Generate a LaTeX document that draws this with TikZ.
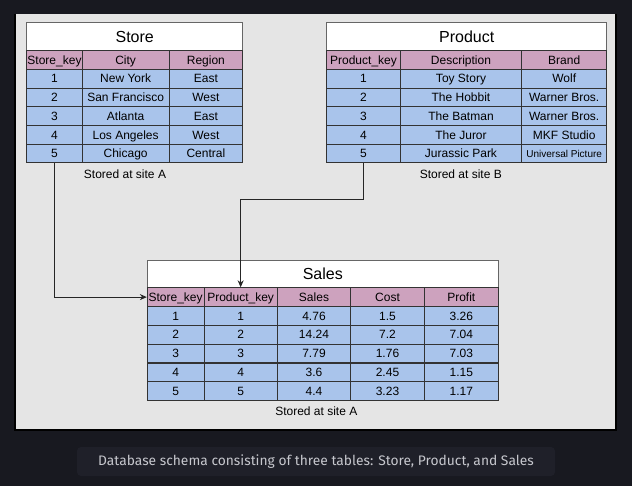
\documentclass[tikz,border=0pt]{standalone}
\usepackage{fontspec}
\setmainfont{Liberation Sans}
\newfontfamily\capfont{Fira Sans}
\usepackage{tikz}
\usetikzlibrary{arrows.meta}
\definecolor{pagebg}{HTML}{181920}
\definecolor{capbg}{HTML}{1F2029}
\definecolor{captext}{HTML}{C6C7CD}
\definecolor{panelbg}{HTML}{E5E5E5}
\definecolor{hdrpink}{HTML}{CDA2BE}
\definecolor{rowblue}{HTML}{A9C4EB}
\tikzset{
	cellbase/.style={draw=black!80, line width=0.9pt, rectangle, inner sep=0pt, minimum height=18.7pt, text height=11pt, text depth=2.6pt, font=\fontsize{12}{14}\selectfont},
	hdr/.style={cellbase, fill=hdrpink},
	rowc/.style={cellbase, fill=rowblue},
	tabtitle/.style={draw=black!60, line width=0.9pt, fill=white, rectangle, inner sep=0pt, text height=14.5pt, text depth=3.3pt, font=\fontsize{16}{19}\selectfont},
	site/.style={font=\fontsize{12}{14}\selectfont},
	link/.style={line width=0.9pt, draw=black!85, -{Stealth[length=7pt, width=6pt]}}
}

\begin{document}
\begin{tikzpicture}[x=1pt, y=-1pt]
			%%%%% START %%%%%
			\useasboundingbox[fill=pagebg] (0, 0) rectangle (632, 486);
			
			\fill[panelbg] (15, 14) rectangle (616, 430);
			\draw[line width=1.2pt, color=black] (15, 14) -- (15, 430) -- (616, 430) -- (616, 14);
			
			%%%%% STORE %%%%%
			\node[tabtitle, minimum width=216pt, minimum height=28pt] (st-title) at (134.7, 36.7) {Store};
			\node[hdr, minimum width=55.6pt] (st-h1) at (54.5, 60.05) {Store\_key};
			\node[hdr, minimum width=86.7pt] (st-h2) at (125.65, 60.05) {City};
			\node[hdr, minimum width=73.7pt] (st-h3) at (205.85, 60.05) {Region};
			
			\node[rowc, minimum width=55.6pt] (st-r1c1) at (54.5, 78.75) {1};
			\node[rowc, minimum width=86.7pt] (st-r1c2) at (125.65, 78.75) {New York};
			\node[rowc, minimum width=73.7pt] (st-r1c3) at (205.85, 78.75) {East};
			\node[rowc, minimum width=55.6pt] (st-r2c1) at (54.5, 97.45) {2};
			\node[rowc, minimum width=86.7pt] (st-r2c2) at (125.65, 97.45) {San Francisco};
			\node[rowc, minimum width=73.7pt] (st-r2c3) at (205.85, 97.45) {West};
			\node[rowc, minimum width=55.6pt] (st-r3c1) at (54.5, 116.15) {3};
			\node[rowc, minimum width=86.7pt] (st-r3c2) at (125.65, 116.15) {Atlanta};
			\node[rowc, minimum width=73.7pt] (st-r3c3) at (205.85, 116.15) {East};
			\node[rowc, minimum width=55.6pt] (st-r4c1) at (54.5, 134.85) {4};
			\node[rowc, minimum width=86.7pt] (st-r4c2) at (125.65, 134.85) {Los Angeles};
			\node[rowc, minimum width=73.7pt] (st-r4c3) at (205.85, 134.85) {West};
			\node[rowc, minimum width=55.6pt] (st-r5c1) at (54.5, 153.55) {5};
			\node[rowc, minimum width=86.7pt] (st-r5c2) at (125.65, 153.55) {Chicago};
			\node[rowc, minimum width=73.7pt] (st-r5c3) at (205.85, 153.55) {Central};
			
			\node[site] (st-site) at (125, 174.5) {Stored at site A};
			
			%%%%% PRODUCT %%%%%
			\node[tabtitle, minimum width=280pt, minimum height=28pt] (pr-title) at (466.7, 36.7) {Product};
			\node[hdr, minimum width=73.6pt] (pr-h1) at (363.5, 60.05) {Product\_key};
			\node[hdr, minimum width=121.4pt] (pr-h2) at (461, 60.05) {Description};
			\node[hdr, minimum width=85pt] (pr-h3) at (564.2, 60.05) {Brand};
			
			\node[rowc, minimum width=73.6pt] (pr-r1c1) at (363.5, 78.75) {1};
			\node[rowc, minimum width=121.4pt] (pr-r1c2) at (461, 78.75) {Toy Story};
			\node[rowc, minimum width=85pt] (pr-r1c3) at (564.2, 78.75) {Wolf};
			\node[rowc, minimum width=73.6pt] (pr-r2c1) at (363.5, 97.45) {2};
			\node[rowc, minimum width=121.4pt] (pr-r2c2) at (461, 97.45) {The Hobbit};
			\node[rowc, minimum width=85pt] (pr-r2c3) at (564.2, 97.45) {Warner Bros.};
			\node[rowc, minimum width=73.6pt] (pr-r3c1) at (363.5, 116.15) {3};
			\node[rowc, minimum width=121.4pt] (pr-r3c2) at (461, 116.15) {The Batman};
			\node[rowc, minimum width=85pt] (pr-r3c3) at (564.2, 116.15) {Warner Bros.};
			\node[rowc, minimum width=73.6pt] (pr-r4c1) at (363.5, 134.85) {4};
			\node[rowc, minimum width=121.4pt] (pr-r4c2) at (461, 134.85) {The Juror};
			\node[rowc, minimum width=85pt] (pr-r4c3) at (564.2, 134.85) {MKF Studio};
			\node[rowc, minimum width=73.6pt] (pr-r5c1) at (363.5, 153.55) {5};
			\node[rowc, minimum width=121.4pt] (pr-r5c2) at (461, 153.55) {Jurassic Park};
			\node[rowc, minimum width=85pt, text height=9.5pt, text depth=2.3pt, font=\fontsize{10}{12}\selectfont] (pr-r5c3) at (564.2, 153.55) {Universal Picture};
			
			\node[site] (pr-site) at (460.8, 174.5) {Stored at site B};
			
			%%%%% SALES %%%%%
			\node[tabtitle, minimum width=351pt, minimum height=27pt] (sa-title) at (322.8, 274.2) {Sales};
			\node[hdr, minimum width=56.7pt] (sa-h1) at (175.65, 297.1) {Store\_key};
			\node[hdr, minimum width=73.3pt] (sa-h2) at (240.65, 297.1) {Product\_key};
			\node[hdr, minimum width=73.4pt] (sa-h3) at (314, 297.1) {Sales};
			\node[hdr, minimum width=73.6pt] (sa-h4) at (387.5, 297.1) {Cost};
			\node[hdr, minimum width=74pt] (sa-h5) at (461.3, 297.1) {Profit};
			
			\node[rowc, minimum width=56.7pt] (sa-r1c1) at (175.65, 315.9) {1};
			\node[rowc, minimum width=73.3pt] (sa-r1c2) at (240.65, 315.9) {1};
			\node[rowc, minimum width=73.4pt] (sa-r1c3) at (314, 315.9) {4.76};
			\node[rowc, minimum width=73.6pt] (sa-r1c4) at (387.5, 315.9) {1.5};
			\node[rowc, minimum width=74pt] (sa-r1c5) at (461.3, 315.9) {3.26};
			\node[rowc, minimum width=56.7pt] (sa-r2c1) at (175.65, 334.7) {2};
			\node[rowc, minimum width=73.3pt] (sa-r2c2) at (240.65, 334.7) {2};
			\node[rowc, minimum width=73.4pt] (sa-r2c3) at (314, 334.7) {14.24};
			\node[rowc, minimum width=73.6pt] (sa-r2c4) at (387.5, 334.7) {7.2};
			\node[rowc, minimum width=74pt] (sa-r2c5) at (461.3, 334.7) {7.04};
			\node[rowc, minimum width=56.7pt] (sa-r3c1) at (175.65, 353.5) {3};
			\node[rowc, minimum width=73.3pt] (sa-r3c2) at (240.65, 353.5) {3};
			\node[rowc, minimum width=73.4pt] (sa-r3c3) at (314, 353.5) {7.79};
			\node[rowc, minimum width=73.6pt] (sa-r3c4) at (387.5, 353.5) {1.76};
			\node[rowc, minimum width=74pt] (sa-r3c5) at (461.3, 353.5) {7.03};
			\node[rowc, minimum width=56.7pt] (sa-r4c1) at (175.65, 372.3) {4};
			\node[rowc, minimum width=73.3pt] (sa-r4c2) at (240.65, 372.3) {4};
			\node[rowc, minimum width=73.4pt] (sa-r4c3) at (314, 372.3) {3.6};
			\node[rowc, minimum width=73.6pt] (sa-r4c4) at (387.5, 372.3) {2.45};
			\node[rowc, minimum width=74pt] (sa-r4c5) at (461.3, 372.3) {1.15};
			\node[rowc, minimum width=56.7pt] (sa-r5c1) at (175.65, 391.1) {5};
			\node[rowc, minimum width=73.3pt] (sa-r5c2) at (240.65, 391.1) {5};
			\node[rowc, minimum width=73.4pt] (sa-r5c3) at (314, 391.1) {4.4};
			\node[rowc, minimum width=73.6pt] (sa-r5c4) at (387.5, 391.1) {3.23};
			\node[rowc, minimum width=74pt] (sa-r5c5) at (461.3, 391.1) {1.17};
			
			\node[site] (sa-site) at (316.3, 411.5) {Stored at site A};
			
			%%%%% LINKS %%%%%
			\draw[link] (st-r5c1.south) |- (sa-h1.west);
			\coordinate (pr-bend) at (363.5, 199);
			\draw[link] (pr-r5c1.south) -- (pr-bend) -| (sa-h2.north);
			
			%%%%% CAPTION %%%%%
			\fill[capbg, rounded corners=4pt] (77, 447) rectangle (555, 476);
			\node[text=captext, font=\capfont\fontsize{13.8}{16}\selectfont] (caption) at (316, 461.5) {Database schema consisting of three tables: Store, Product, and Sales};
			%%%%% END %%%%%
\end{tikzpicture}
\end{document}
